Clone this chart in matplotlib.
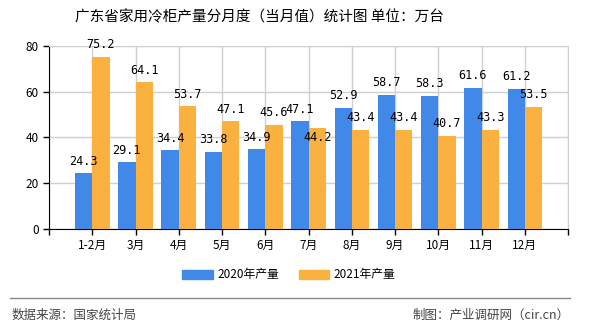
import numpy as np
import matplotlib
matplotlib.use("Agg")
import matplotlib.pyplot as plt
from matplotlib.patches import Patch

plt.rcParams['font.family'] = ['Noto Sans CJK SC', 'DejaVu Sans']

months = ['1-2月', '3月', '4月', '5月', '6月', '7月', '8月', '9月', '10月', '11月', '12月']
prod_2020 = [24.3, 29.1, 34.4, 33.8, 34.9, 47.1, 52.9, 58.7, 58.3, 61.6, 61.2]
prod_2021 = [75.2, 64.1, 53.7, 47.1, 45.6, 44.2, 43.4, 43.4, 40.7, 43.3, 53.5]

blue = '#4189e8'
orange = '#fbb140'

fig = plt.figure(figsize=(5.9, 3.3), dpi=100)
ax = fig.add_axes([0.083, 0.306, 0.880, 0.555])

x = np.arange(1, len(months) + 1)
w = 0.40
ax.bar(x - w / 2, prod_2020, width=w, color=blue, zorder=3)
ax.bar(x + w / 2, prod_2021, width=w, color=orange, zorder=3)

# value labels above bars (7月 2021 label sits just below the top)
for i in range(len(months)):
    ax.annotate(f'{prod_2020[i]:.1f}', (x[i] - w / 2, prod_2020[i]), xytext=(0, 4),
                textcoords='offset points', ha='center', va='bottom',
                fontsize=8.5, family='DejaVu Sans Mono', zorder=4)
    off, va = (4, 'bottom') if i != 5 else (-2, 'top')
    ax.annotate(f'{prod_2021[i]:.1f}', (x[i] + w / 2, prod_2021[i]), xytext=(0, off),
                textcoords='offset points', ha='center', va=va,
                fontsize=8.5, family='DejaVu Sans Mono', zorder=4)

ax.set_xlim(0, 12)
ax.set_ylim(0, 80)
ax.set_yticks([0, 20, 40, 60, 80])
ax.set_xticks(list(x) + [0, 12])
ax.set_xticklabels(months + ['', ''])
ax.tick_params(axis='both', labelsize=8.5, length=4, width=1, color='black')
ax.grid(True, color='#d0d0d0', linewidth=1, zorder=0)
ax.spines['left'].set_color('black')
ax.spines['bottom'].set_color('black')
ax.spines['top'].set_color('#d0d0d0')
ax.spines['right'].set_color('#d0d0d0')

fig.text(0.44, 0.948, '广东省家用冷柜产量分月度（当月值）统计图 单位：万台',
         ha='center', va='center', fontsize=10.5)

handles = [Patch(color=blue, label='2020年产量'), Patch(color=orange, label='2021年产量')]
fig.legend(handles=handles, loc='center', bbox_to_anchor=(0.49, 0.167), ncol=2,
           frameon=False, fontsize=8.5, handlelength=2.6, handleheight=0.8,
           columnspacing=1.6, handletextpad=0.4)

fig.add_artist(plt.Line2D([0.017, 0.966], [0.097, 0.097], color='#888888', linewidth=1))
fig.text(0.02, 0.045, '数据来源：国家统计局', ha='left', va='center', fontsize=9, color='#444444')
fig.text(0.966, 0.045, '制图：产业调研网（cir.cn）', ha='right', va='center', fontsize=9, color='#444444')

fig.savefig('out.png', dpi=100)
